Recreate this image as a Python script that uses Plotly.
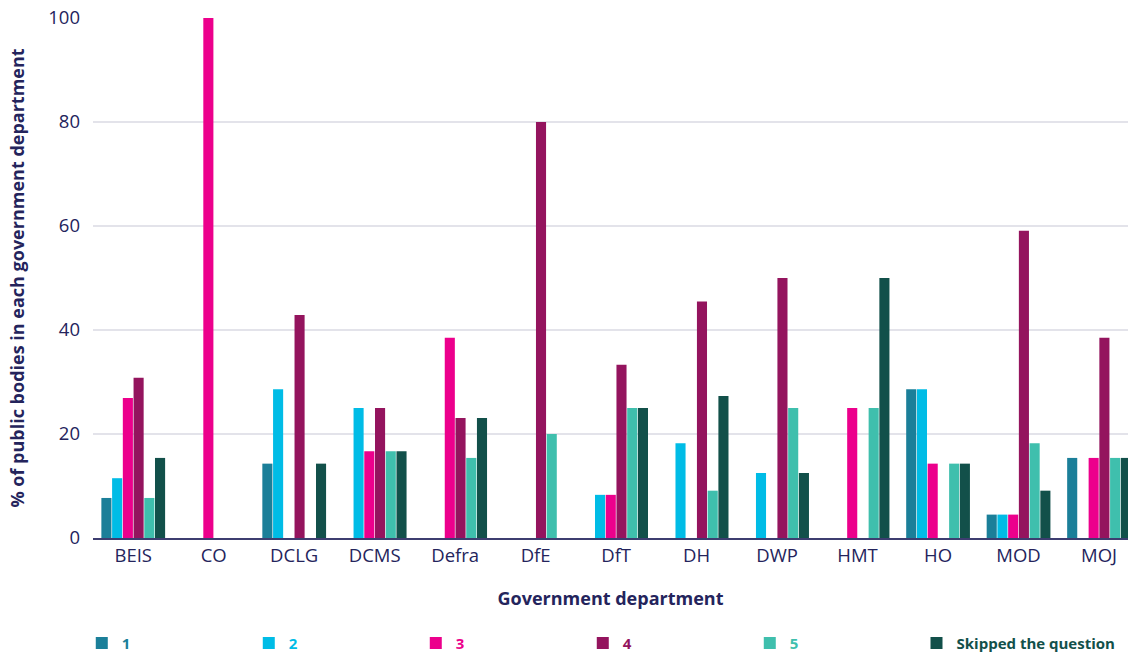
import plotly.graph_objects as go

departments = ["BEIS", "CO", "DCLG", "DCMS", "Defra", "DfE", "DfT", "DH", "DWP", "HMT", "HO", "MOD", "MOJ"]
series_names = ["1", "2", "3", "4", "5", "Skipped the question"]
s1 = [7.7, 0, 14.3, 0, 0, 0, 0, 0, 0, 0, 28.6, 4.5, 15.4]
s2 = [11.5, 0, 28.6, 25, 0, 0, 8.3, 18.2, 12.5, 0, 28.6, 4.5, 0]
s3 = [26.9, 100, 0, 16.7, 38.5, 0, 8.3, 0, 0, 25, 14.3, 4.5, 15.4]
s4 = [30.8, 0, 42.9, 25, 23.1, 80, 33.3, 45.5, 50, 0, 0, 59.1, 38.5]
s5 = [7.7, 0, 0, 16.7, 15.4, 20, 25, 9.1, 25, 25, 14.3, 18.2, 15.4]
skipped = [15.4, 0, 14.3, 16.7, 23.1, 0, 25, 27.3, 12.5, 50, 14.3, 9.1, 15.4]
y_ticks = [0, 20, 40, 60, 80, 100]

colors = ["#1b7f99", "#00bce6", "#ec008c", "#94145e", "#3fbfad", "#12504a"]
series = [s1, s2, s3, s4, s5, skipped]
navy = "#24245c"

fig = go.Figure()
for i, (name, vals, c) in enumerate(zip(series_names, series, colors)):
    fig.add_trace(go.Bar(
        x=departments, y=vals, marker_color=c, marker_line_width=0,
        name=f"<b><span style='color:{c}'>{name}</span></b>",
        legend="legend2" if i == len(series) - 1 else "legend",
    ))

legend_common = dict(orientation="h", xref="container", yref="container",
                     y=0.015, xanchor="left", yanchor="middle",
                     font=dict(size=15), itemwidth=30, traceorder="normal")

fig.update_layout(
    width=1128, height=653,
    margin=dict(l=93, r=0, t=18, b=115),
    paper_bgcolor="white", plot_bgcolor="white",
    font=dict(family="Open Sans", color=navy, size=18),
    barmode="group", bargap=0.2, bargroupgap=0.06,
    showlegend=True,
    legend=dict(x=0.0725, entrywidth=122, entrywidthmode="pixels", **legend_common),
    legend2=dict(x=0.8125, **legend_common),
    xaxis=dict(range=[-0.5, 12.36], showgrid=False, showline=True,
               linecolor="#3d3d70", linewidth=2, ticks="",
               tickfont=dict(size=18.5, color=navy),
               title=dict(text="<b>Government department</b>", font=dict(size=18, color=navy), standoff=26)),
    yaxis=dict(range=[0, 100], tickvals=y_ticks, showgrid=True, gridcolor="#e3e3ea",
               gridwidth=1.5, zeroline=False, ticks="", ticklabelstandoff=12,
               tickfont=dict(size=18.5, color=navy),
               title=dict(text="<b>% of public bodies in each government department</b>",
                          font=dict(size=18, color=navy), standoff=18)),
)

fig.write_html("out.html")
